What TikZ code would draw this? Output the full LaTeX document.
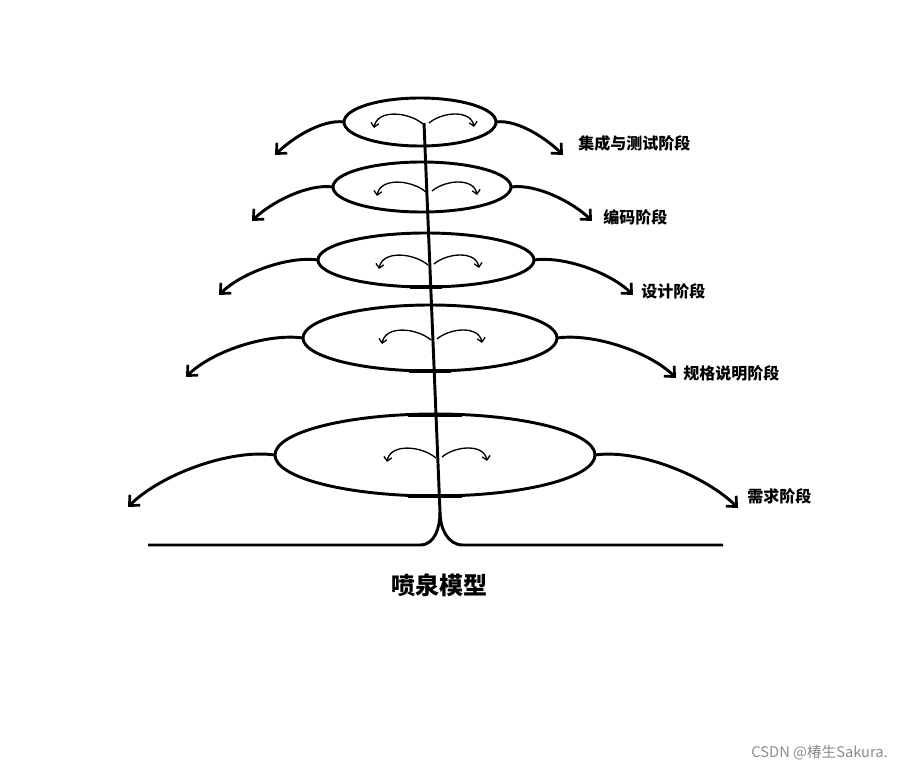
\documentclass[tikz,border=0pt]{standalone}
\usepackage{fontspec}
\newfontfamily\cjk{Noto Sans CJK SC}
\usetikzlibrary{shapes.geometric,arrows.meta}
\tikzset{
  layer/.style={ellipse,draw,line width=2.2pt,inner sep=0pt,outer sep=0pt},
  outarrow/.style={line width=2.2pt,-{Straight Barb[length=6pt,width=11pt,line width=2pt]}},
  inarrow/.style={line width=1pt,-{Straight Barb[length=3pt,width=6pt]}},
  stem/.style={line width=2.2pt},
  thickmark/.style={line width=3.4pt},
  lbl/.style={font=\cjk\bfseries\fontsize{12pt}{14pt}\selectfont,anchor=west,inner sep=0pt},
}
\begin{document}
\begin{tikzpicture}[x=0.75pt,y=-0.75pt]
\path[use as bounding box] (0,0) rectangle (903,773);

% layers
\node[layer,minimum width=114pt,minimum height=36pt] (e1) at (420,122) {};
\node[layer,minimum width=133.5pt,minimum height=37.5pt] (e2) at (422,187) {};
\node[layer,minimum width=162pt,minimum height=40.5pt] (e3) at (426,260) {};
\node[layer,minimum width=190.5pt,minimum height=49.5pt] (e4) at (430,338) {};
\node[layer,minimum width=240pt,minimum height=61.5pt] (e5) at (435,455) {};

% stem
\coordinate (top) at (424,123);
\coordinate (split) at (440,512);
\coordinate (bl) at (420,545);
\coordinate (br) at (463,545);
\coordinate (ll) at (148,545);
\coordinate (rr) at (723,545);
\draw[stem] (top) -- (split);
\draw[stem] (split) to[out=-90,in=0] (bl) -- (ll);
\draw[stem] (split) to[out=-90,in=180] (br) -- (rr);

% thick marks at crossings
\draw[thickmark] ([xshift=-12pt]e3.south) -- ([xshift=12pt]e3.south);
\draw[thickmark] ([xshift=-16pt]e4.south) -- ([xshift=16pt]e4.south);
\draw[thickmark] ([xshift=-20pt,yshift=-0.6pt]e5.north) -- ([xshift=20pt,yshift=-0.6pt]e5.north);
\draw[thickmark] ([xshift=-20pt]e5.south) -- ([xshift=20pt]e5.south);

% outer arrows
\coordinate (l1) at (275,155); \coordinate (r1) at (563,155);
\coordinate (l2) at (252,221); \coordinate (r2) at (592,221);
\coordinate (l3) at (219,295); \coordinate (r3) at (633,295);
\coordinate (l4) at (186,377); \coordinate (r4) at (676,378);
\coordinate (l5) at (128,507); \coordinate (r5) at (738,508);
\foreach \i in {1,...,5}{
  \draw[outarrow] (e\i.west) to[out=172,in=45,looseness=0.75] (l\i);
  \draw[outarrow] (e\i.east) to[out=8,in=135,looseness=0.75] (r\i);
}

% inner small arrows
\foreach \cx/\cy in {424/124, 427/192, 429/265, 432/340, 437/458}{
  \draw[inarrow] (\cx-1,\cy) to[out=140,in=80] (\cx-50,\cy+4);
  \draw[inarrow] (\cx+5,\cy-1) to[out=40,in=100] (\cx+50,\cy+3);
}

% labels
\node[lbl] (t1) at (578,143) {集成与测试阶段};
\node[lbl] (t2) at (603,217) {编码阶段};
\node[lbl] (t3) at (641,291) {设计阶段};
\node[lbl] (t4) at (683,373) {规格说明阶段};
\node[lbl] (t5) at (747,496) {需求阶段};
\node[font=\cjk\bfseries\fontsize{18pt}{20pt}\selectfont,inner sep=0pt] (title) at (439,585) {喷泉模型};
\node[font=\cjk\fontsize{11pt}{13pt}\selectfont,text=black!45,anchor=east,inner sep=0pt] (wm) at (888,753) {CSDN @椿生Sakura.};
\end{tikzpicture}
\end{document}
